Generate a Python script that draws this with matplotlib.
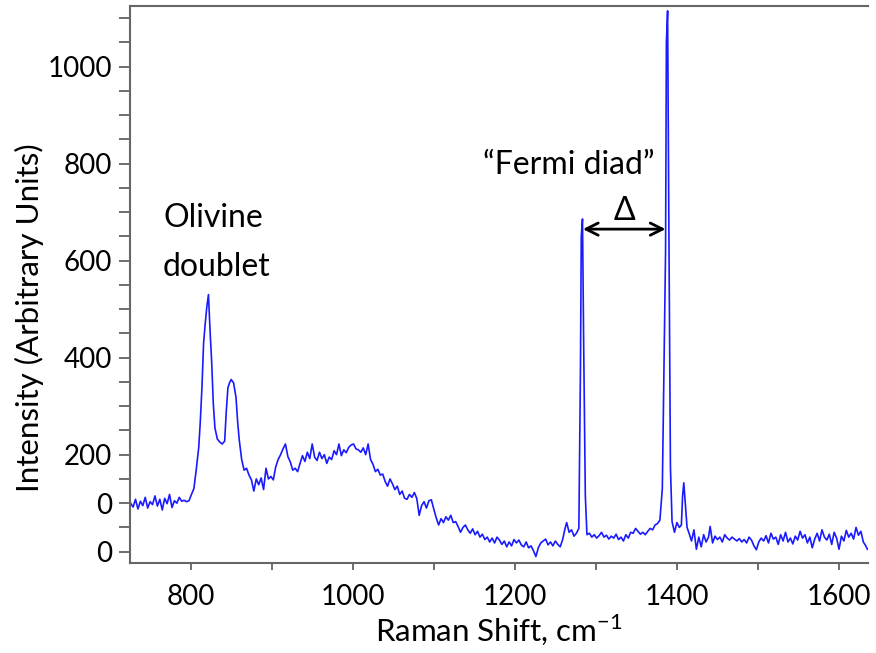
import matplotlib
matplotlib.use("Agg")
import matplotlib.pyplot as plt

plt.rcParams['font.family'] = ['Lato', 'DejaVu Sans']
plt.rcParams['mathtext.fontset'] = 'custom'
plt.rcParams['mathtext.rm'] = 'Lato'

# Raman spectrum (shift in cm-1, intensity in a.u.)
left_x = [726, 729, 732, 735, 738, 741, 744, 747, 750, 753, 756, 759, 762,
          765, 768, 771, 774, 777, 780, 783, 786, 789, 792, 795, 798]
left_y = [100, 92, 108, 88, 104, 95, 112, 90, 103, 97, 115, 94, 108,
          86, 110, 99, 118, 91, 105, 100, 112, 104, 106, 103, 105]

olivine_x = [801, 804, 807, 810, 812, 814, 816, 818, 820, 822, 824, 826,
             828, 830, 833, 836, 839, 842, 844, 846, 848, 850, 853, 856,
             858, 860, 863, 866, 869, 872, 875, 878, 881, 884, 887, 890,
             893, 896, 899]
olivine_y = [118, 130, 170, 215, 270, 340, 430, 470, 505, 530, 455, 390,
             305, 255, 232, 226, 222, 228, 290, 338, 348, 355, 348, 318,
             268, 230, 190, 168, 172, 158, 148, 125, 150, 138, 152, 128,
             172, 150, 155]

band_x = [902, 905, 908, 911, 914, 917, 920, 923, 926, 929, 932, 935, 938,
          941, 944, 947, 950, 953, 956, 959, 962, 965, 968, 971, 974, 977,
          980, 983, 986, 989, 992, 995, 998, 1001, 1004, 1007, 1010, 1013,
          1016, 1019, 1022, 1025, 1028, 1031, 1034, 1037, 1040, 1043, 1046,
          1049, 1052, 1055, 1058, 1061, 1064, 1067, 1070, 1073, 1076, 1079,
          1082, 1085, 1088, 1091, 1094, 1097, 1100]
band_y = [148, 175, 190, 200, 212, 222, 196, 185, 168, 172, 165, 182, 198,
          186, 205, 192, 222, 195, 188, 205, 192, 200, 182, 195, 190, 208,
          200, 222, 198, 210, 204, 215, 220, 222, 212, 210, 205, 214,
          200, 222, 190, 180, 165, 170, 158, 160, 145, 135, 150,
          140, 128, 135, 118, 125, 110, 108, 118, 112, 122, 110,
          75, 95, 103, 90, 105, 107, 88]

trough_x = [1103, 1106, 1109, 1112, 1115, 1118, 1121, 1124, 1127, 1130,
            1133, 1136, 1139, 1142, 1145, 1148, 1151, 1154, 1157, 1160,
            1163, 1166, 1169, 1172, 1175, 1178, 1181, 1184, 1187, 1190,
            1193, 1196, 1199, 1202, 1205, 1208, 1211, 1214, 1217, 1220,
            1223, 1226, 1229, 1232, 1235, 1238, 1241, 1244, 1247, 1250,
            1253, 1256, 1259, 1262, 1264, 1267, 1270, 1273, 1276, 1279]
trough_y = [70, 55, 68, 60, 72, 65, 75, 60, 62, 52,
            40, 50, 55, 45, 38, 47, 35, 42, 30, 36,
            25, 30, 20, 28, 18, 30, 24, 15, 22, 10,
            20, 12, 25, 18, 24, 14, 10, 20, 8, 12,
            2, -10, 8, 18, 22, 26, 14, 20, 12, 22,
            15, 10, 25, 48, 60, 40, 45, 32, 38, 48]

diad_x = [1281, 1282, 1283.5, 1285, 1287, 1289, 1292, 1295, 1298, 1301,
          1304, 1307, 1310, 1313, 1316, 1319, 1322, 1325, 1328, 1331,
          1334, 1337, 1340, 1343, 1346, 1349, 1352, 1355, 1358, 1361,
          1364, 1367, 1370, 1373, 1376, 1379, 1382, 1384, 1386, 1387,
          1388.5, 1390, 1392, 1394, 1397, 1400, 1403, 1405.5, 1407,
          1408.5, 1410, 1412.5, 1415, 1418, 1421, 1424, 1427, 1430,
          1433, 1436, 1439, 1441, 1444, 1447, 1450, 1453, 1456, 1459]
diad_y = [380, 650, 686, 420, 115, 35, 38, 30, 35, 28,
          33, 40, 30, 34, 26, 32, 28, 36, 25, 30,
          22, 35, 28, 40, 38, 48, 42, 36, 40, 35,
          42, 48, 45, 55, 58, 65, 130, 380, 620, 1050,
          1115, 690, 175, 62, 40, 60, 50, 55, 115,
          142, 108, 50, 38, 22, 45, 5, 30, 10,
          35, 20, 30, 52, 18, 32, 25, 30, 20, 35]

tail_x = [1462, 1465, 1468, 1471, 1474, 1477, 1480, 1483, 1486, 1489,
          1492, 1495, 1498, 1501, 1504, 1507, 1510, 1513, 1516, 1519,
          1522, 1525, 1528, 1531, 1534, 1537, 1540, 1543, 1546, 1549,
          1552, 1555, 1558, 1561, 1564, 1567, 1570, 1573, 1576, 1579,
          1582, 1585, 1588, 1591, 1594, 1597, 1600, 1603, 1606, 1609,
          1612, 1615, 1618, 1621, 1624, 1627, 1630, 1633, 1635]
tail_y = [28, 24, 30, 26, 22, 27, 20, 25, 18, 30,
          24, 12, 4, 20, 28, 22, 33, 18, 38, 26,
          30, 15, 35, 22, 40, 20, 28, 16, 32, 24,
          42, 28, 35, 18, 30, 8, 26, 38, 22, 45,
          30, 24, 36, 15, 40, 28, 5, 32, 22, 44,
          30, 38, 26, 50, 34, 42, 20, 12, 5]

shift = left_x + olivine_x + band_x + trough_x + diad_x + tail_x
intensity = left_y + olivine_y + band_y + trough_y + diad_y + tail_y

y_ticks = list(range(0, 1101, 50))
y_labels = {0: '0', 100: '0', 200: '200', 400: '400', 600: '600',
            800: '800', 1000: '1000'}
x_ticks = list(range(800, 1601, 100))
x_labels = {800: '800', 1000: '1000', 1200: '1200', 1400: '1400',
            1600: '1600'}

fig = plt.figure(figsize=(8.76, 6.53), dpi=100)
ax = fig.add_axes([0.1484, 0.1383, 0.8425, 0.8525])

ax.plot(shift, intensity, color='#1a1aff', lw=1.2)

ax.set_xlim(725.2, 1635.8)
ax.set_ylim(-22.7, 1125)

ax.set_yticks(y_ticks)
ax.set_yticklabels([y_labels.get(t, '') for t in y_ticks])
ax.set_xticks(x_ticks)
ax.set_xticklabels([x_labels.get(t, '') for t in x_ticks])
ax.tick_params(axis='y', length=8, width=1.2, color='#555555', pad=5,
               labelsize=20)
ax.tick_params(axis='x', length=5, width=1.2, color='#555555', pad=10,
               labelsize=20)

for side in ['left', 'bottom', 'top']:
    ax.spines[side].set_color('#666666')
    ax.spines[side].set_linewidth(1.5)
ax.spines['right'].set_visible(False)

ax.set_xlabel(r'Raman Shift, cm$^{\mathrm{-1}}$', fontsize=22.5, labelpad=2)
ax.set_ylabel('Intensity (Arbitrary Units)', fontsize=22.5)
ax.yaxis.set_label_coords(-0.117, 0.44)

ax.text(766, 688, 'Olivine', fontsize=23, va='center', ha='left')
ax.text(766, 587, 'doublet', fontsize=23, va='center', ha='left')
ax.text(1267, 797, '\u201cFermi diad\u201d', fontsize=23, va='center',
        ha='center')
ax.text(1335.5, 703, '\u0394', fontsize=23, va='center', ha='center')
ax.annotate('', xy=(1284, 665), xytext=(1386, 665),
            arrowprops=dict(arrowstyle='<->', color='black', lw=2,
                            mutation_scale=22, shrinkA=0, shrinkB=0))

fig.savefig('out.png', dpi=100)
